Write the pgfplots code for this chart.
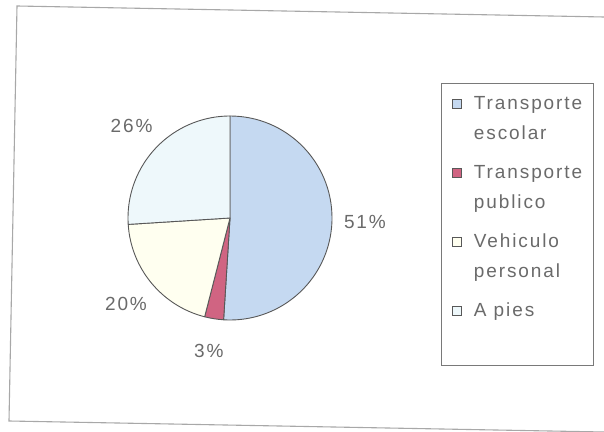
\documentclass[border=0pt]{standalone}
\usepackage{fontspec}
\setmainfont{Liberation Sans}[LetterSpace=10]
\usepackage{pgfplots}
\usepackage{pgfplotstable}
\pgfplotsset{compat=1.18}
\usetikzlibrary{calc}

\definecolor{escolar}{HTML}{C5D9F1}
\definecolor{publico}{HTML}{D06482}
\definecolor{vehiculo}{HTML}{FFFFF0}
\definecolor{apies}{HTML}{EEF8FB}
\definecolor{edgegrey}{HTML}{585858}
\definecolor{textgrey}{HTML}{6A6A6A}
\definecolor{framegrey}{HTML}{A8A8A8}

\newcommand\chartfont{\fontsize{19}{30}\selectfont}

% share of students by mode of transport (%)
\pgfplotstableread[col sep=comma]{
share,fillc
51,escolar
3,publico
20,vehiculo
26,apies
}\shares

\begin{document}
\begin{tikzpicture}
\begin{axis}[
  scale only axis, width=604pt, height=431pt,
  xmin=0, xmax=604, ymin=0, ymax=431,
  hide axis, clip=false,
  legend style={at={(axis cs:452,343)}, anchor=north west,
    draw=none, fill=none, inner sep=0pt, row sep=9pt, column sep=12pt,
    font=\chartfont, text=textgrey,
    cells={anchor=base west},
    nodes={inner sep=0pt, text height=21pt, text depth=39pt}},
  legend image code/.code={\draw[#1, draw=edgegrey, line width=0.7pt] (0pt,0.5pt) rectangle (9pt,9.5pt);},
]
\addlegendimage{fill=escolar}
\addlegendentry{\begin{tabular}[t]{@{}l@{}}Transporte\\escolar\end{tabular}}
\addlegendimage{fill=publico}
\addlegendentry{\begin{tabular}[t]{@{}l@{}}Transporte\\publico\end{tabular}}
\addlegendimage{fill=vehiculo}
\addlegendentry{\begin{tabular}[t]{@{}l@{}}Vehiculo\\personal\end{tabular}}
\addlegendimage{fill=apies}
\addlegendentry{\begin{tabular}[t]{@{}l@{}}A pies\end{tabular}}

\pgfplotsextra{
  % chart frame and legend box
  \draw[framegrey, line width=1.1pt] (axis cs:604,414) -- (axis cs:17,425) -- (axis cs:9,10) -- (axis cs:604,-1);
  \draw[edgegrey!80, line width=0.9pt] (axis cs:441,348) rectangle (axis cs:593,66);
  % pie slices, clockwise from twelve o'clock
  \xdef\startang{90}
  \foreach \r in {0,...,3}{
    \pgfplotstablegetelem{\r}{share}\of\shares \let\sv\pgfplotsretval
    \pgfplotstablegetelem{\r}{fillc}\of\shares \let\sc\pgfplotsretval
    \pgfmathsetmacro{\endang}{\startang - 3.6*\sv}
    \pgfmathsetmacro{\midang}{(\startang+\endang)/2}
    \filldraw[fill=\sc, draw=edgegrey, line width=0.9pt, line join=round]
      (axis cs:230,213) -- ++(\startang:102pt)
      arc[start angle=\startang, end angle=\endang, radius=102pt] -- cycle;
    \node[font=\chartfont, text=textgrey, inner sep=0pt]
      at ($(axis cs:230,213)+(\midang:135pt)$) {\sv\%};
    \xdef\startang{\endang}
  }
}
\end{axis}
\pgfresetboundingbox
\path (0,0) rectangle (604pt,431pt);
\end{tikzpicture}
\end{document}
